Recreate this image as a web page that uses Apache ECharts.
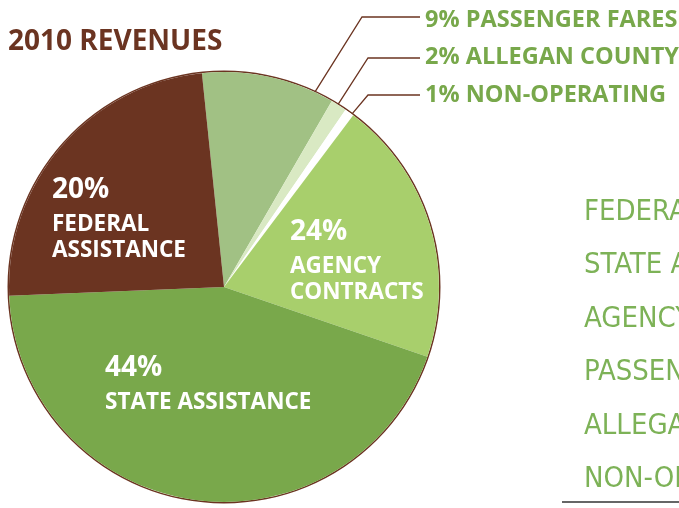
<!DOCTYPE html>
<html>
<head>
<meta charset="utf-8">
<title>2010 Revenues</title>
<style>
  html, body { margin: 0; padding: 0; background: #fff; }
  #main { width: 679px; height: 508px; }
</style>
<script src="https://cdn.jsdelivr.net/npm/echarts@6/dist/echarts.min.js"></script>
</head>
<body>
<div id="main"></div>
<script>
// slices in drawing order, clockwise from just left of 12 o'clock
const categories = ['Passenger Fares', 'Allegan County', 'Non-Operating', 'Agency Contracts', 'State Assistance', 'Federal Assistance'];
// share of the circle each slice takes in the picture (%)
const sliceShares = [10, 1.2, 0.7, 20, 44.1, 24];
// the percentages printed on the chart
const printedPercents = ['9%', '2%', '1%', '24%', '44%', '20%'];
const labelTexts = ['PASSENGER FARES', 'ALLEGAN COUNTY', 'NON-OPERATING', 'AGENCY\nCONTRACTS', 'STATE ASSISTANCE', 'FEDERAL\nASSISTANCE'];
// order of the list on the right
const legendOrder = ['Federal Assistance', 'State Assistance', 'Agency Contracts', 'Passenger Fares', 'Allegan County', 'Non-Operating'];

const sliceColors = ['#a1c184', '#d9e9c3', '#ffffff', '#a8cf6c', '#79a84b', '#6b3421'];
const brown = '#6b3421';
const green = '#78a84b';
const font = "'Open Sans', 'Noto Sans', sans-serif";

const cx = 224, cy = 287, R = 215;
const outside = [0, 1, 2];

// where the label text blocks go (layout only)
const insidePos = { 3: [290, 212], 4: [105, 348], 5: [52, 170] };
const calloutY = [20, 57.5, 95];
const leaderY = [17, 58, 95];
const leaderElbowX = [362, 368, 368];
const leaderAnchorDeg = [25, 32, 36.5];

const chart = echarts.init(document.getElementById('main'));

const data = categories.map((name, i) => {
  const item = { name: name, value: sliceShares[i], itemStyle: { color: sliceColors[i] } };
  if (outside.includes(i)) {
    item.label = { position: 'outside' };
    item.labelLine = { show: true };
  }
  return item;
});

const option = {
  title: {
    text: '2010 REVENUES',
    left: 8,
    top: 28,
    padding: 0,
    textStyle: { fontFamily: font, fontSize: 28, fontWeight: 'bold', color: brown }
  },
  legend: {
    data: legendOrder,
    orient: 'vertical',
    left: 579,
    top: 197,
    padding: 0,
    itemWidth: 0,
    itemHeight: 0,
    itemGap: 23.5,
    selectedMode: false,
    icon: 'circle',
    formatter: (n) => n.toUpperCase(),
    textStyle: {
      fontFamily: "'Liberation Sans Narrow', 'DejaVu Sans Condensed', 'Roboto', sans-serif",
      fontWeight: 300,
      fontSize: 29,
      lineHeight: 30,
      color: '#7db257'
    }
  },
  graphic: [{
    type: 'line',
    shape: { x1: 562, y1: 502, x2: 679, y2: 502 },
    style: { stroke: '#333', lineWidth: 1.5 }
  }],
  series: [
    {
      type: 'pie',
      center: [cx, cy],
      radius: [R, R + 1.5],
      silent: true,
      label: { show: false },
      labelLine: { show: false },
      itemStyle: { color: brown },
      data: [{ value: 1, name: 'outline' }],
      legendHoverLink: false
    },
    {
      type: 'pie',
      center: [cx, cy],
      radius: [0, R],
      startAngle: 95.9,
      clockwise: true,
      avoidLabelOverlap: false,
      silent: true,
      data: data,
      label: {
        show: true,
        position: 'inside',
        formatter: (p) => {
          const i = p.dataIndex;
          if (outside.includes(i)) return '{o|' + printedPercents[i] + ' ' + labelTexts[i] + '}';
          return '{p|' + printedPercents[i] + '}\n' +
            labelTexts[i].split('\n').map((t) => '{n|' + t + '}').join('\n');
        },
        rich: {
          p: { fontFamily: font, fontSize: 28, fontWeight: 'bold', color: '#fff', lineHeight: 41, align: 'left' },
          n: { fontFamily: font, fontSize: 22.5, fontWeight: 'bold', color: '#fff', lineHeight: 26.5, align: 'left' },
          o: { fontFamily: font, fontSize: 23.5, fontWeight: 'bold', color: green, lineHeight: 28 }
        }
      },
      labelLine: {
        show: false,
        lineStyle: { color: brown, width: 1.3 }
      },
      labelLayout: (params) => {
        const i = params.dataIndex;
        if (outside.includes(i)) {
          const a = leaderAnchorDeg[i] * Math.PI / 180;
          const start = [cx + R * Math.sin(a), cy - R * Math.cos(a)];
          return {
            x: 425,
            y: calloutY[i],
            align: 'left',
            verticalAlign: 'middle',
            labelLinePoints: [start, [leaderElbowX[i], leaderY[i]], [420, leaderY[i]]]
          };
        }
        const pos = insidePos[i];
        return { x: pos[0], y: pos[1], align: 'left', verticalAlign: 'top' };
      }
    }
  ]
};

chart.setOption(option);
</script>
</body>
</html>
